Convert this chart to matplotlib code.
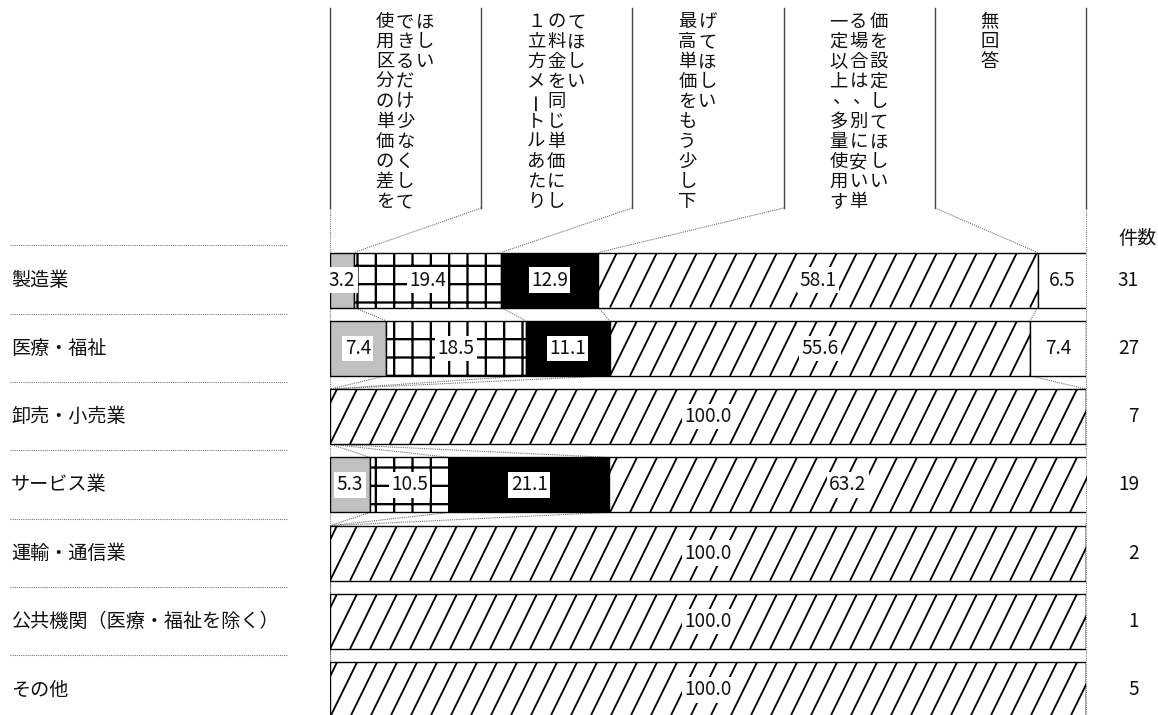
import numpy as np
import matplotlib
matplotlib.use("Agg")
import matplotlib.pyplot as plt
from matplotlib.collections import LineCollection

plt.rcParams['font.family'] = ['Noto Sans CJK JP', 'DejaVu Sans']
plt.rcParams['hatch.linewidth'] = 1.5

# data
industries = ["製造業", "医療・福祉", "卸売・小売業", "サービス業",
              "運輸・通信業", "公共機関（医療・福祉を除く）", "その他"]
counts = [31, 27, 7, 19, 2, 1, 5]
s1 = [3.2, 7.4, 0, 5.3, 0, 0, 0]
s2 = [19.4, 18.5, 0, 10.5, 0, 0, 0]
s3 = [12.9, 11.1, 0, 21.1, 0, 0, 0]
s4 = [58.1, 55.6, 100.0, 63.2, 100.0, 100.0, 100.0]
s5 = [6.5, 7.4, 0, 0, 0, 0, 0]
series = [s1, s2, s3, s4, s5]

# header text, one list of vertical columns per answer (columns read left to right)
headers = [
    ["使用区分の単価の差を", "できるだけ少なくして", "ほしい"],
    ["１立方メートルあたり", "の料金を同じ単価にし", "てほしい"],
    ["最高単価をもう少し下", "げてほしい"],
    ["一定以上、多量使用す", "る場合は、別に安い単", "価を設定してほしい"],
    ["無回答"],
]

styles = [dict(color="#c0c0c0"), dict(color="white", hatch="+"),
          dict(color="black"), dict(color="white"),
          dict(color="white")]

W, H, DPI = 1158, 715, 110
fig = plt.figure(figsize=(W / DPI, H / DPI), dpi=DPI)
X0, X1 = 330, 1086
ax = fig.add_axes([X0 / W, 0, (X1 - X0) / W, 1])
ax.set_xlim(0, 100)
ax.set_ylim(H, 0)  # vertical axis in pixel rows
ax.axis("off")

def px(x):
    # figure pixel column -> percent scale of the bar axes
    return (x - X0) / (X1 - X0) * 100

pitch = 68.3
y_first = 280
bh = 55
yc = y_first + pitch * np.arange(len(industries))

data = np.array(series)
cum = np.vstack([np.zeros(len(industries)), np.cumsum(data, axis=0)])

# dotted frame down both sides
for xv in (0, 100):
    ax.plot([xv, xv], [208, yc[-1] + bh / 2], color="#777", lw=0.7,
            ls=(0, (1, 1)), zorder=1, clip_on=False)

# bars
for k, vals in enumerate(series):
    bars = ax.barh(yc, vals, left=cum[k], height=bh, edgecolor="black",
                   lw=0.9, zorder=2, **styles[k])
    if k == 3:
        # steep diagonal hatching, clipped to each bar
        step = px(X0 + 20)
        run = px(X0 + 27)
        for i, p in enumerate(bars.patches):
            if vals[i] <= 0:
                continue
            x_a, x_b = cum[k][i], cum[k + 1][i]
            t0 = np.floor((x_a - run) / step) * step
            ts = np.arange(t0, x_b + step, step)
            segs = [[(t, yc[i] + bh / 2), (t + run, yc[i] - bh / 2)] for t in ts]
            lc = LineCollection(segs, colors="black", lw=1.2, zorder=3)
            ax.add_collection(lc)
            lc.set_clip_path(p)
    for i, v in enumerate(vals):
        if v > 0:
            ax.text(cum[k][i] + v / 2, yc[i], f"{v:.1f}", ha="center",
                    va="center", fontsize=12.5, color="#111", zorder=5,
                    bbox=dict(boxstyle="square,pad=0.12", fc="white",
                              ec="none"))

# dotted connectors between consecutive bars
for i in range(len(industries) - 1):
    for k in range(1, 5):
        ax.plot([cum[k][i], cum[k][i + 1]],
                [yc[i] + bh / 2, yc[i + 1] - bh / 2],
                color="#666", lw=0.7, ls=(0, (1, 1)), zorder=1)

# header: separators, connectors to the first bar, vertical text
for c in range(6):
    ax.plot([20 * c, 20 * c], [8, 208], color="#444", lw=0.9, clip_on=False)
for k in range(1, 5):
    ax.plot([20 * k, cum[k][0]], [208, yc[0] - bh / 2], color="#666",
            lw=0.7, ls=(0, (1, 1)))

col_dx = 20 / (X1 - X0) * 100
for c, cols in enumerate(headers):
    for j, col in enumerate(cols):
        xx = 20 * c + px(X0 + 55) + j * col_dx
        for r, ch in enumerate(col):
            yy = 22 + 20 * r
            rot = 0
            dx = 0
            if ch == "ー":
                rot = 90
            if ch == "、":
                yy -= 4
                dx = 0.3
            ax.text(xx + dx, yy, ch, ha="center", va="center", fontsize=12,
                    rotation=rot, color="#111")

# row labels and dotted separators
for i, name in enumerate(industries):
    ax.text(px(11), yc[i], name, ha="left", va="center", fontsize=12.5,
            color="#111")
    ax.plot([px(10), px(288)], [yc[i] - pitch / 2 - 0.5] * 2, color="#777",
            lw=0.7, ls=(0, (1, 1)), clip_on=False)
    ax.text(px(1139), yc[i], str(counts[i]), ha="right", va="center",
            fontsize=12.5, color="#111")

ax.text(px(1137), 238, "件数", ha="center", va="center", fontsize=12.5,
        color="#111")

fig.savefig("out.png", dpi=DPI)
